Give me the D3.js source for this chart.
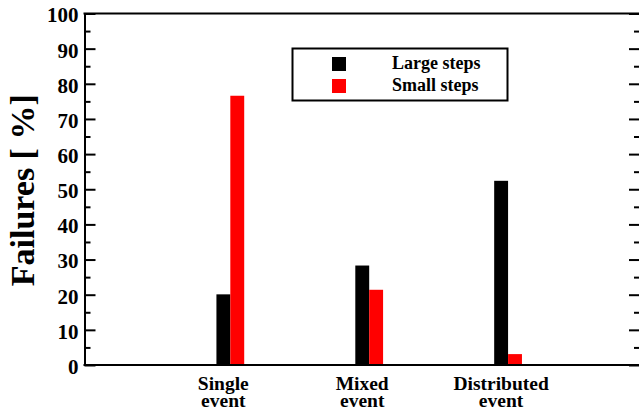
<!DOCTYPE html>
<html>
<head>
<meta charset="utf-8">
<script src="https://cdn.jsdelivr.net/npm/d3@7/dist/d3.min.js"></script>
<style>
  html, body { margin: 0; padding: 0; background: #fff; }
  svg { display: block; }
</style>
</head>
<body>
<svg id="chart" width="639" height="419"></svg>
<script>
// Failure shares per event type
const categories = ["Single event", "Mixed event", "Distributed event"];
const largeSteps = [20.1, 28.3, 52.4];
const smallSteps = [76.6, 21.4, 3.1];
const seriesNames = ["Large steps", "Small steps"];
const seriesColors = ["#000000", "#ff0000"];
const majorTicks = [0, 10, 20, 30, 40, 50, 60, 70, 80, 90, 100];
const minorTicks = [5, 15, 25, 35, 45, 55, 65, 75, 85, 95];
const yTitle = "Failures [ %]";

const serif = "Liberation Serif, Tinos, DejaVu Serif, Noto Serif, serif";
const svg = d3.select("#chart")
  .style("font-family", serif)
  .style("font-weight", "bold");
const plotLeft = 84.5, plotRight = 640, plotTop = 13.5, plotBottom = 365;

const x = d3.scaleLinear().domain([-0.05, 3.95]).range([plotLeft, plotRight]);
const y = d3.scaleLinear().domain([0, 100]).range([plotBottom, plotTop]);
const barW = 0.1; // bar width in category units

// bars: large steps to the left of each category position, small steps to the right
const series = [largeSteps, smallSteps];
series.forEach((vals, s) => {
  svg.append("g").selectAll("rect")
    .data(vals)
    .join("rect")
    .attr("x", (d, i) => x(i + 1 + (s - 1) * barW))
    .attr("width", x(barW) - x(0))
    .attr("y", d => y(d))
    .attr("height", d => y(0) - y(d))
    .attr("fill", seriesColors[s]);
});

// axes: major ticks labelled, minor ticks plain, all pointing inward
function styleAxis(g) {
  g.attr("font-family", null).style("font-family", serif).style("font-weight", "bold");
  g.selectAll("line").attr("stroke", "#000").attr("stroke-width", 2);
  g.selectAll("path.domain").attr("stroke", "#000").attr("stroke-width", 2);
  g.selectAll("text").style("font-family", serif).attr("font-size", 21).attr("fill", "#000").attr("dy", "0.40em");
}
svg.append("g").attr("transform", `translate(${plotLeft},0)`)
  .call(d3.axisLeft(y).tickValues(majorTicks).tickSize(-11).tickSizeOuter(0).tickPadding(6).tickFormat(d3.format("d")))
  .call(styleAxis);
svg.append("g").attr("transform", `translate(${plotLeft},0)`)
  .call(d3.axisLeft(y).tickValues(minorTicks).tickSize(-6).tickSizeOuter(0).tickFormat(""))
  .call(styleAxis);
svg.append("g").attr("transform", `translate(${plotRight},0)`)
  .call(d3.axisRight(y).tickValues(majorTicks).tickSize(-11).tickSizeOuter(0).tickFormat(""))
  .call(styleAxis);
svg.append("g").attr("transform", `translate(${plotRight},0)`)
  .call(d3.axisRight(y).tickValues(minorTicks).tickSize(-6).tickSizeOuter(0).tickFormat(""))
  .call(styleAxis);

// top and bottom frame lines
svg.append("line").attr("x1", plotLeft - 1).attr("x2", plotRight).attr("y1", plotTop).attr("y2", plotTop)
  .attr("stroke", "#000").attr("stroke-width", 2);
svg.append("line").attr("x1", plotLeft - 1).attr("x2", plotRight).attr("y1", plotBottom).attr("y2", plotBottom)
  .attr("stroke", "#000").attr("stroke-width", 2);

// category labels, two lines each
const cat = svg.append("g").selectAll("text")
  .data(categories)
  .join("text")
  .attr("text-anchor", "middle")
  .attr("font-size", 19.5);
cat.each(function (d, i) {
  const parts = d.split(" ");
  const t = d3.select(this);
  parts.forEach((p, k) => {
    t.append("tspan")
      .attr("x", x(i + 1) - 7)
      .attr("y", 389.5 + k * 17.5)
      .text(p);
  });
});

// y-axis title
svg.append("text")
  .attr("transform", `translate(34,${(plotTop + plotBottom) / 2 + 1}) rotate(-90)`)
  .attr("text-anchor", "middle")
  .attr("font-size", 34)
  .text(yTitle);

// legend
const legend = svg.append("g");
legend.append("rect")
  .attr("x", 292.5).attr("y", 48.5).attr("width", 215).attr("height", 52)
  .attr("fill", "#fff").attr("stroke", "#000").attr("stroke-width", 2);
seriesNames.forEach((name, s) => {
  legend.append("rect")
    .attr("x", 332).attr("y", 57 + s * 22).attr("width", 14).attr("height", 14)
    .attr("fill", seriesColors[s]);
  legend.append("text")
    .attr("x", 392).attr("y", 68.5 + s * 22)
    .attr("font-size", 18)
    .text(name);
});
</script>
</body>
</html>
